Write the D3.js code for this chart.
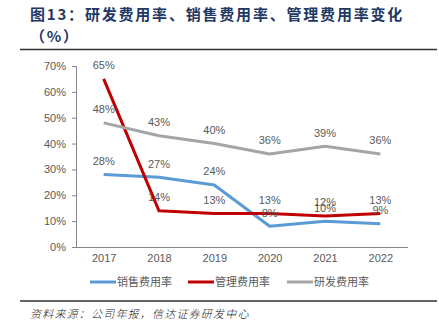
<!DOCTYPE html>
<html>
<head>
<meta charset="utf-8">
<script src="https://cdn.jsdelivr.net/npm/d3@7"></script>
<style>
  body { margin: 0; background: #fff; }
  svg { display: block; }
</style>
</head>
<body>
<div id="chart"></div>
<script>
// Data
const years = ["2017", "2018", "2019", "2020", "2021", "2022"];
const salesRate = [28, 27, 24, 8, 10, 9];
const adminRate = [65, 14, 13, 13, 12, 13];
const rdRate = [48, 43, 40, 36, 39, 36];
const yTicks = [0, 10, 20, 30, 40, 50, 60, 70];

const series = [
    { name: "销售费用率", values: salesRate, color: "#5b9bd5" },
    { name: "管理费用率", values: adminRate, color: "#c00000" },
    { name: "研发费用率", values: rdRate, color: "#a5a5a5" }
];

const W = 439, H = 332;
const plot = { left: 76, right: 408, top: 66, bottom: 247 };
const latin = "'Liberation Sans', Arial, 'Noto Sans CJK SC', sans-serif";
const cjk = "'Noto Sans CJK SC', 'Liberation Sans', sans-serif";

const svg = d3.select("#chart")
    .append("svg")
    .attr("width", W)
    .attr("height", H);

// Title
const title = svg.append("text")
    .attr("fill", "#1f3864")
    .attr("font-family", cjk)
    .attr("font-size", 15)
    .attr("font-weight", "bold")
    .attr("letter-spacing", 1.8);
title.append("tspan").attr("x", 30).attr("y", 20).text("图13：研发费用率、销售费用率、管理费用率变化");
title.append("tspan").attr("x", 30).attr("y", 42).text("（%）");

// Rules
svg.append("line")
    .attr("x1", 20).attr("x2", 437).attr("y1", 49.5).attr("y2", 49.5)
    .attr("stroke", "#333").attr("stroke-width", 1.3);
svg.append("line")
    .attr("x1", 20).attr("x2", 437).attr("y1", 301).attr("y2", 301)
    .attr("stroke", "#333").attr("stroke-width", 1.3);

// Scales
const x = d3.scalePoint()
    .domain(years)
    .range([plot.left, plot.right])
    .padding(0.5);

const y = d3.scaleLinear()
    .domain([0, 70])
    .range([plot.bottom, plot.top]);

// Y axis
const yAxis = svg.append("g")
    .attr("transform", `translate(${plot.left},0)`)
    .call(d3.axisLeft(y).tickValues(yTicks).tickSize(4).tickPadding(6).tickFormat(d => d + "%"));
yAxis.select(".domain").attr("stroke", "#868686");
yAxis.selectAll(".tick line").attr("stroke", "#868686");
yAxis.selectAll("text")
    .attr("fill", "#595959")
    .attr("font-family", latin)
    .attr("font-size", 11);

// X axis
const xAxis = svg.append("g")
    .attr("transform", `translate(0,${plot.bottom})`)
    .call(d3.axisBottom(x).tickSize(0).tickPadding(7));
xAxis.select(".domain")
    .attr("stroke", "#868686")
    .attr("d", `M${plot.left},0.5H${plot.right}`);
xAxis.selectAll("text")
    .attr("fill", "#595959")
    .attr("font-family", latin)
    .attr("font-size", 11);

// Lines
const line = d3.line()
    .x((d, i) => x(years[i]))
    .y(d => y(d));

series.forEach(s => {
    svg.append("path")
        .datum(s.values)
        .attr("fill", "none")
        .attr("stroke", s.color)
        .attr("stroke-width", 3)
        .attr("stroke-linejoin", "round")
        .attr("d", line);
});

// Value labels above points
series.forEach(s => {
    svg.append("g")
        .selectAll("text")
        .data(s.values)
        .join("text")
        .attr("x", (d, i) => x(years[i]))
        .attr("y", d => y(d) - 9.5)
        .attr("text-anchor", "middle")
        .attr("fill", "#595959")
        .attr("font-family", latin)
        .attr("font-size", 11)
        .text(d => d + "%");
});

// Legend
const legendX = [90, 188, 287];
const legend = svg.append("g");
series.forEach((s, i) => {
    legend.append("line")
        .attr("x1", legendX[i]).attr("x2", legendX[i] + 26)
        .attr("y1", 282).attr("y2", 282)
        .attr("stroke", s.color).attr("stroke-width", 3);
    legend.append("text")
        .attr("x", legendX[i] + 27)
        .attr("y", 286)
        .attr("fill", "#595959")
        .attr("font-family", cjk)
        .attr("font-size", 11)
        .text(s.name);
});

// Source note
svg.append("text")
    .attr("x", 30)
    .attr("y", 318)
    .attr("fill", "#222")
    .attr("font-family", cjk)
    .attr("font-size", 11)
    .attr("font-weight", 300)
    .attr("font-style", "italic")
    .attr("letter-spacing", 1.2)
    .text("资料来源：公司年报，信达证券研发中心");
</script>
</body>
</html>
